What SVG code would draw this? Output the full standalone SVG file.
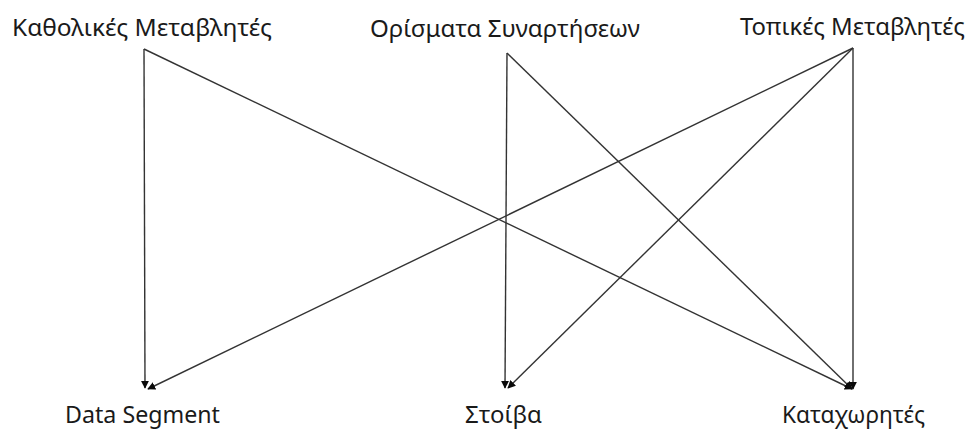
<svg xmlns="http://www.w3.org/2000/svg" width="972" height="430" viewBox="0 0 972 430">
<defs>
<style>
.lbl{font-family:"Noto Sans","Open Sans","DejaVu Sans",sans-serif;font-size:23px;fill:#1a1a1a;}
.edge{stroke:#333333;stroke-width:1.4;fill:none;marker-end:url(#arr);}
</style>
<marker id="arr" viewBox="0 0 10 10" refX="9" refY="5" markerWidth="8" markerHeight="8" markerUnits="userSpaceOnUse" orient="auto">
<path d="M0,0 L10,5 L0,10 z" fill="#0a0a0a"/>
</marker>
</defs>
<rect width="972" height="430" fill="#ffffff"/>
<g id="connectors">
<line class="edge" x1="144" y1="49" x2="145" y2="388"/>
<line class="edge" x1="144" y1="49" x2="852" y2="389"/>
<line class="edge" x1="507" y1="53" x2="505" y2="388"/>
<line class="edge" x1="507" y1="53" x2="852" y2="389"/>
<line class="edge" x1="853" y1="48" x2="148" y2="389"/>
<line class="edge" x1="853" y1="48" x2="508" y2="388"/>
<line class="edge" x1="853" y1="48" x2="853" y2="389"/>
</g>
<g id="global-vars"><text class="lbl" x="12" y="36" textLength="260" lengthAdjust="spacingAndGlyphs">Καθολικές Μεταβλητές</text></g>
<g id="func-args"><text class="lbl" x="370" y="37" textLength="270" lengthAdjust="spacingAndGlyphs">Ορίσματα Συναρτήσεων</text></g>
<g id="local-vars"><text class="lbl" x="740" y="35" textLength="225" lengthAdjust="spacingAndGlyphs">Τοπικές Μεταβλητές</text></g>
<g id="data-segment"><text class="lbl" x="65" y="423" textLength="155" lengthAdjust="spacingAndGlyphs">Data Segment</text></g>
<g id="stack"><text class="lbl" x="465" y="423" textLength="77" lengthAdjust="spacingAndGlyphs">Στοίβα</text></g>
<g id="registers"><text class="lbl" x="782" y="423" textLength="143" lengthAdjust="spacingAndGlyphs">Καταχωρητές</text></g>
</svg>
